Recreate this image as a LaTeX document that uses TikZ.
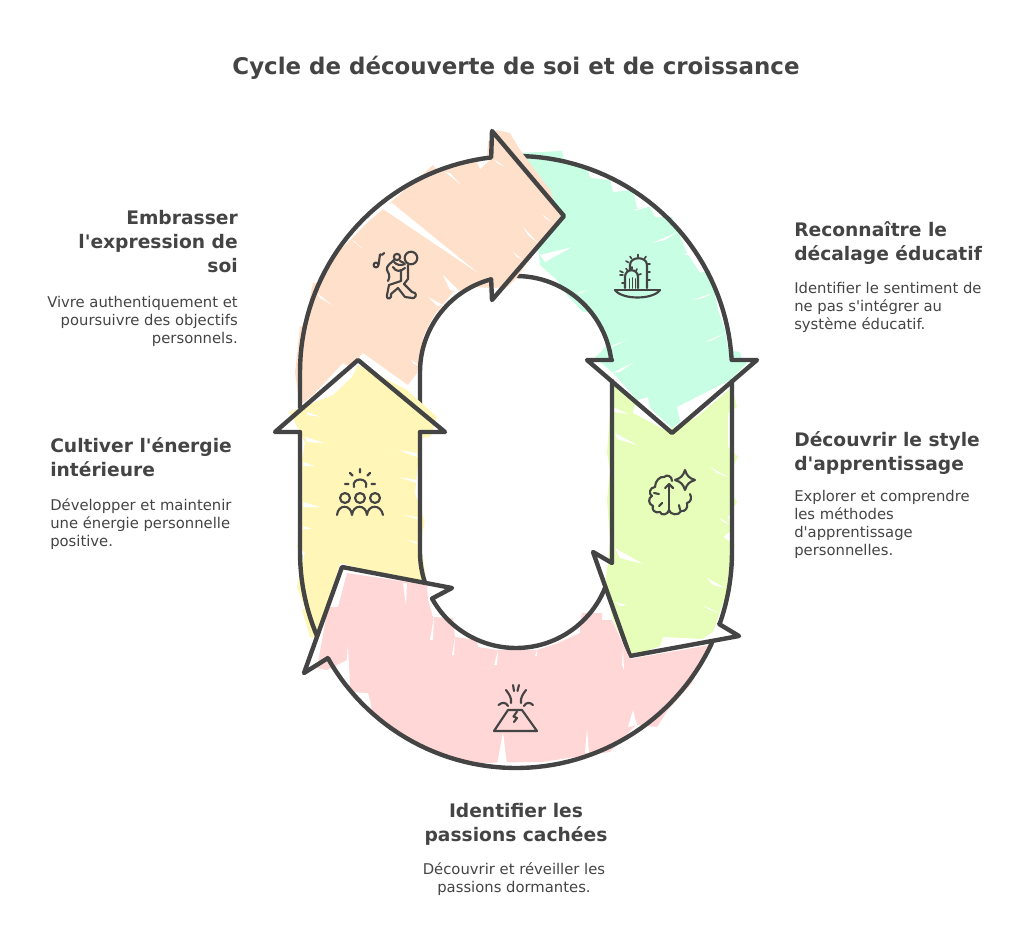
\documentclass[tikz,border=0pt]{standalone}
\usepackage{fontspec}
\setmainfont{DejaVu Sans}[Ligatures=TeXOff]
\definecolor{ink}{HTML}{444444}
\definecolor{cpeach}{HTML}{FFE1CB}
\definecolor{cmint}{HTML}{C7FEE4}
\definecolor{clime}{HTML}{E6FEB9}
\definecolor{cyell}{HTML}{FFF6B8}
\definecolor{cpink}{HTML}{FFD7D7}
\newcommand\streak[3]{\fill[white] #1 -- #2 -- #3 -- cycle;}
\tikzset{
  outline/.style={draw=ink,line width=3.3pt,line join=round,line cap=round},
  icon/.style={draw=ink,line width=1.6pt,line join=round,line cap=round},
  thintick/.style={draw=ink,line width=1.2pt,line cap=round},
  headtxt/.style={text=ink,inner sep=0pt,font=\fontsize{14}{18}\selectfont\bfseries},
  bodytxt/.style={text=ink,inner sep=0pt,font=\fontsize{11.1}{13.5}\selectfont},
  titletxt/.style={text=ink,inner sep=0pt,font=\fontsize{17.2}{22}\selectfont\bfseries},
}
\begin{document}
\begin{tikzpicture}[x=0.75pt,y=-0.75pt]
\useasboundingbox (0,0) rectangle (1032,942);
% ---------- lime
\fill[clime] (612,385)--(636,400)--(633,413)--(665,430)--(680,425)--(697,417)--(732,387)--(737,407)--(728,413)--(728,447)--(738,457)--(730,472)--(730,490)--(737,502)--(728,517)--(732,530)--(723,537)--(735,545)--(730,563)--(726,595)--(720,612)--(713,632)--(702,639)--(663,637)--(660,646)--(630,657)--(613,620)--(605,583)--(607,570)--(610,540)--(607,500)--(610,470)--(607,453)--cycle;
\streak{(615,433)}{(637,445)}{(617,439)}
\streak{(613,407)}{(628,414)}{(614,412)}
\streak{(615,548)}{(643,564)}{(620,558)}
\streak{(710,467)}{(730,478)}{(717,473)}
\streak{(720,518)}{(731,525)}{(723,522)}
\streak{(707,578)}{(725,588)}{(713,585)}
\streak{(702,605)}{(720,613)}{(710,610)}
\streak{(615,602)}{(627,605)}{(620,606)}
\streak{(664,638)}{(686,642)}{(668,646)}
\draw[outline] (612,381)--(612,563)--(593,552)--(630,656)--(739,636)--(719,624) -- plot[domain=-19.5:0,samples=12] ({516+216*cos(\x)},{552-216*sin(\x)}) -- (732,381);
% ---------- mint
\fill[cmint] (518,153)--(562,151)--(563,158)--(588,170)--(590,178)--(610,180)--(613,192)--(633,190)--(637,208)--(650,207)--(655,217)--(672,217)--(687,253)--(700,273)--(710,270)--(718,310)--(725,330)--(728,350)--(740,352)--(742,360)--(747,363)--(730,380)--(677,407)--(680,422)--(672,428)--(650,408)--(648,397)--(637,400)--(615,375)--(595,357)--(600,353)--(608,343)--(597,320)--(592,312)--(583,312)--(567,295)--(557,280)--(540,265)--(537,237)--(520,200)--cycle;
\streak{(540,255)}{(572,247)}{(545,262)}
\streak{(652,243)}{(678,232)}{(665,240)}
\streak{(632,210)}{(650,206)}{(638,210)}
\streak{(684,254)}{(692,251)}{(687,255)}
\streak{(692,300)}{(713,293)}{(703,298)}
\streak{(705,342)}{(727,332)}{(713,340)}
\streak{(610,348)}{(627,340)}{(613,345)}
\streak{(612,373)}{(634,362)}{(620,372)}
\streak{(577,293)}{(587,290)}{(580,294)}
\draw[outline] plot[domain=90:3.2,samples=40] ({516+216*cos(\x)},{372-216*sin(\x)}) -- (757,360) -- (672,433) -- (587,360) -- (612,360) -- plot[domain=7.2:92,samples=30] ({516+96*cos(\x)},{372-96*sin(\x)});
% ---------- peach
\fill[cpeach] (300,405)--(295,373)--(300,327)--(305,323)--(313,283)--(320,283)--(340,250)--(367,223)--(390,203)--(433,165)--(438,172)--(470,163)--(487,158)--(488,142)--(497,130)--(510,133)--(520,150)--(550,190)--(560,216)--(515,280)--(507,287)--(493,288)--(473,287)--(453,292)--(433,317)--(423,337)--(422,360)--(418,363)--(417,373)--(408,385)--(363,353)--(350,367)--(343,363)--(313,395)--cycle;
\streak{(380,207)}{(392,203)}{(478,273)}
\streak{(443,275)}{(460,292)}{(450,290)}
\streak{(428,297)}{(443,305)}{(437,306)}
\streak{(317,293)}{(332,305)}{(320,298)}
\streak{(352,240)}{(361,248)}{(354,241)}
\streak{(445,172)}{(460,184)}{(450,173)}
\streak{(477,162)}{(480,169)}{(492,158)}
\streak{(495,160)}{(505,167)}{(497,163)}
\streak{(523,227)}{(538,243)}{(528,235)}
\streak{(513,252)}{(523,260)}{(517,257)}
\streak{(543,215)}{(553,223)}{(545,218)}
\streak{(411,360)}{(419,365)}{(414,364)}
\draw[outline] (300,410)--(300,372) -- plot[domain=180:96.6,samples=40] ({516+216*cos(\x)},{372-216*sin(\x)}) -- (492,131) -- (564,216) -- (492,300) -- plot[domain=105:180,samples=30] ({516+96*cos(\x)},{372-96*sin(\x)}) -- (420,411);
% ---------- yellow
\fill[cyell] (358,365)--(407,390)--(437,417)--(433,430)--(432,433)--(430,437)--(420,438)--(418,465)--(415,493)--(425,522)--(420,543)--(423,557)--(427,586)--(340,563)--(317,637)--(310,637)--(302,610)--(305,608)--(297,587)--(305,552)--(297,547)--(302,520)--(298,480)--(305,443)--(300,432)--(290,413)--(287,413)--(333,395)--(352,377)--cycle;
\streak{(305,437)}{(325,443)}{(307,442)}
\streak{(303,462)}{(315,466)}{(303,466)}
\streak{(303,502)}{(320,507)}{(303,507)}
\streak{(303,526)}{(312,529)}{(303,529)}
\streak{(398,450)}{(417,453)}{(417,457)}
\streak{(398,477)}{(417,480)}{(417,483)}
\streak{(403,515)}{(417,517)}{(417,519)}
\streak{(407,540)}{(417,542)}{(417,544)}
\streak{(307,412)}{(322,417)}{(307,415)}
\draw[outline] (425,582) -- plot[domain=198:180,samples=10] ({516+96*cos(\x)},{552-96*sin(\x)}) -- (420,432) -- (445,432) -- (358,360) -- (275,432) -- (300,432) -- (300,552) -- plot[domain=180:203,samples=14] ({516+216*cos(\x)},{552-216*sin(\x)});
% ---------- pink
\fill[cpink] (347,573)--(427,585)--(428,600)--(433,617)--(453,618)--(455,637)--(477,640)--(478,647)--(498,650)--(537,650)--(558,643)--(580,633)--(580,623)--(582,613)--(602,613)--(602,620)--(612,620)--(630,659)--(710,645)--(692,683)--(668,710)--(657,727)--(636,725)--(610,752)--(575,757)--(542,762)--(527,762)--(480,763)--(440,755)--(400,733)--(372,712)--(370,700)--(368,693)--(350,692)--(347,660)--(327,670)--(317,668)--(328,607)--(338,607)--cycle;
\streak{(403,583)}{(407,583)}{(406,606)}
\streak{(434,617)}{(430,640)}{(433,640)}
\streak{(455,637)}{(452,655)}{(454,655)}
\streak{(498,651)}{(494,665)}{(497,665)}
\streak{(348,645)}{(345,682)}{(350,685)}
\streak{(587,728)}{(589,753)}{(585,753)}
\streak{(633,710)}{(637,725)}{(628,727)}
\streak{(503,732)}{(507,765)}{(497,765)}
\streak{(623,647)}{(624,670)}{(622,665)}
\streak{(537,650)}{(535,656)}{(537,656)}
\draw[outline] plot[domain=-22:-151,samples=50] ({516+96*cos(\x)},{552-96*sin(\x)}) -- (452,588) -- (342,567) -- (304,673) -- (328,658) -- plot[domain=-150.6:-24.9,samples=60] ({516+216*cos(\x)},{552-216*sin(\x)});
% ---------- icons: dancer
\draw[icon] (411,258) circle[radius=6.3];
\draw[icon] (397,257) circle[radius=3.2];
\draw[icon] (376,265) circle[radius=2.4];
\draw[icon] (378.5,265)--(380,254.5) .. controls (382,255) and (383,255) .. (384,253);
\draw[icon] (400,261) -- (404,263);
\draw[icon] (394,260) .. controls (390,264) and (386,266) .. (387,270) .. controls (388,274) and (391,274) .. (388,281);
\draw[icon] (393,267) .. controls (396,272) and (400,272) .. (405,268);
\draw[icon] (394,262) .. controls (397,265) and (400,266) .. (405,264);
\draw[icon] (408,265) -- (408,279) -- (404,284) -- (412,292) -- (415,293) .. controls (417,295) and (415,299) .. (412,298) -- (405,297) -- (398,288) -- (391,294) -- (391,297) .. controls (389,300) and (386,298) .. (387,295) -- (389,285) -- (401,281) -- (401,270);
% ---------- icons: cactus
\draw[icon] (615,290) -- (660,290);
\draw[icon] (615,290) .. controls (622,300) and (653,300) .. (660,290);
\draw[icon] (630,270) -- (630,265) .. controls (630,256) and (647,256) .. (647,265) -- (647,288);
\draw[icon] (625,288) -- (625,277) .. controls (625,268) and (638,268) .. (638,277) -- (638,288);
\draw[thintick] (629.5,279)--(629.5,288) (632.5,278)--(632.5,288) (635.5,279)--(635.5,288);
\draw[thintick] (638,254.5)--(638,257) (630,256.5)--(631.5,258.5) (646,256.5)--(644.5,258.5) (626,261)--(628.5,262.5) (647,264)--(650,264) (647,272)--(650,272) (647,280)--(650,280)
 (620,275)--(623,275) (622,283)--(625,283) (620,271)--(623,272.5) (626,268.5)--(627.5,270.5) (632,267)--(632,269) (637,269)--(636,271) (641,274)--(638,275);
% ---------- icons: people
\draw[icon] (354,487) .. controls (351,477) and (369,477) .. (366,487);
\draw[icon] (360,469)--(360,472.5) (350,473)--(352.5,475.5) (370,473)--(367.5,475.5) (345,484)--(348.5,484) (371.5,484)--(375,484);
\draw[icon] (345,498) circle[radius=5] (360,498) circle[radius=5] (375,498) circle[radius=5];
\draw[icon] (337,515) .. controls (338,504) and (351,504) .. (352,515) .. controls (353,504) and (366,504) .. (367,515) .. controls (368,504) and (381,504) .. (383,515);
% ---------- icons: brain
\draw[icon] (685,470) .. controls (687,476) and (689,478) .. (695,480) .. controls (689,482) and (687,484) .. (685,490) .. controls (683,484) and (681,482) .. (675,480) .. controls (681,478) and (683,476) .. (685,470) -- cycle;
\draw[icon] (669,486) -- (669,512);
\draw[icon] (665,488) -- (669,484) -- (673,488);
\draw[icon] (669,510) .. controls (668,515) and (661,516) .. (660,512) .. controls (655,514) and (651,509) .. (653,506) .. controls (648,504) and (648,498) .. (652,496) .. controls (648,494) and (650,487) .. (655,487) .. controls (655,481) and (660,476) .. (664,477) .. controls (667,474) and (672,476) .. (672,481);
\draw[icon] (669,510) .. controls (670,515) and (679,516) .. (681,511) .. controls (686,512) and (688,507) .. (687,503) .. controls (691,502) and (692,498) .. (690,494);
\draw[icon] (654,493) -- (659,494) (659,506)--(662,503) (680,510) -- (679,505);
% ---------- icons: volcano
\draw[icon] (494,731) -- (537,731) -- (522,710) -- (508,710) -- cycle;
\draw[icon] (517,711.5) -- (513.5,716.5) -- (517,718) -- (514,722);
\draw[icon] (506,690) .. controls (509,694) and (512,698) .. (511,703);
\draw[icon] (526,690) .. controls (523,694) and (520,698) .. (521,703);
\draw[icon] (513,685) -- (514,691) (519,685) -- (517.5,691);
\draw[icon] (498.5,705) .. controls (502,702) and (506,702) .. (508,706);
\draw[icon] (524,706) .. controls (526,702) and (530,702) .. (533,705);
% ---------- texts
\node[titletxt] (title) at (516,68) {Cycle de découverte de soi et de croissance};
\node[headtxt,anchor=north east,align=right] (h1) at (238,210) {Embrasser\\l'expression de\\soi};
\node[bodytxt,anchor=north east,align=right] (b1) at (238,296) {Vivre authentiquement et\\poursuivre des objectifs\\personnels.};
\node[headtxt,anchor=north west,align=left] (h2) at (794,221) {Reconnaître le\\décalage éducatif};
\node[bodytxt,anchor=north west,align=left] (b2) at (794,282) {Identifier le sentiment de\\ne pas s'intégrer au\\système éducatif.};
\node[headtxt,anchor=north west,align=left] (h3) at (50,437) {Cultiver l'énergie\\intérieure};
\node[bodytxt,anchor=north west,align=left] (b3) at (50,498) {Développer et maintenir\\une énergie personnelle\\positive.};
\node[headtxt,anchor=north west,align=left] (h4) at (794,431) {Découvrir le style\\d'apprentissage};
\node[bodytxt,anchor=north west,align=left] (b4) at (794,490) {Explorer et comprendre\\les méthodes\\d'apprentissage\\personnelles.};
\node[headtxt,anchor=north,align=center] (h5) at (516,803) {Identifier les\\passions cachées};
\node[bodytxt,anchor=north,align=center] (b5) at (514,862) {Découvrir et réveiller les\\passions dormantes.};
\end{tikzpicture}
\end{document}
